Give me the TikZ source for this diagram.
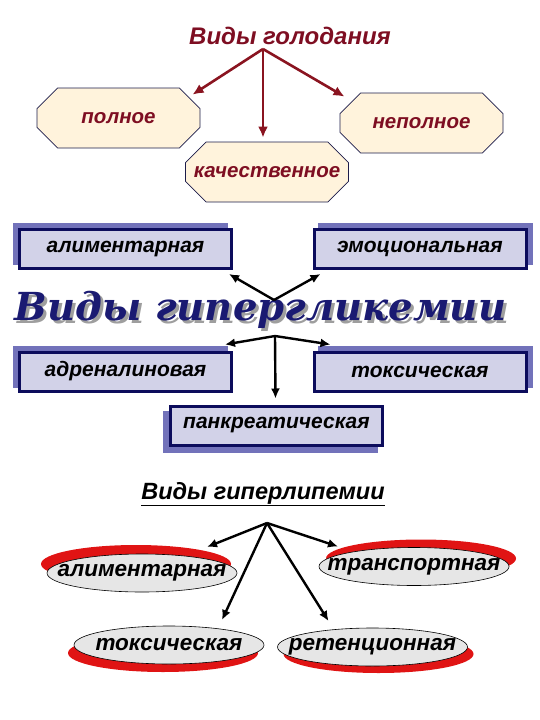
\documentclass[tikz,border=0pt]{standalone}
\usepackage{fontspec}
\setmainfont{Liberation Sans}
\newfontfamily\bigserif{DejaVu Serif}
\usetikzlibrary{arrows.meta,shapes.misc,shapes.geometric,shadows,calc}
\definecolor{hred}{HTML}{7E0E22}
\definecolor{harrowc}{HTML}{8A1420}
\definecolor{octfill}{HTML}{FFF3DC}
\definecolor{octline}{HTML}{1C1C4A}
\definecolor{gfill}{HTML}{D2D2E8}
\definecolor{gline}{HTML}{0C0C5C}
\definecolor{gshadow}{HTML}{7272BA}
\definecolor{navytxt}{HTML}{1A1A72}
\definecolor{efill}{HTML}{E6E6E6}
\definecolor{ered}{HTML}{E01414}
\begin{document}
\begin{tikzpicture}[x=1pt,y=-1pt,
  octbox/.style={chamfered rectangle, chamfered rectangle xsep=15pt,
    chamfered rectangle ysep=15pt, draw=octline, line width=0.8pt,
    fill=octfill, minimum width=163pt, minimum height=60pt, inner sep=0pt,
    font=\fontsize{20.5}{24}\selectfont\bfseries\itshape, text=hred},
  harrow/.style={-{Latex[length=11pt,width=10pt]}, line width=2.6pt, draw=harrowc},
  barrow/.style={-{Latex[length=10pt,width=9pt]}, line width=2.4pt, draw=black},
  gbox/.style={rectangle, draw=gline, line width=3pt, fill=gfill,
    minimum width=212pt, minimum height=39pt, inner sep=0pt,
    font=\fontsize{21}{24}\selectfont\bfseries\itshape},
  gsh/.style 2 args={copy shadow={shadow xshift=#1, shadow yshift=#2,
    fill=gshadow, draw=gshadow, opacity=1}},
  ebox/.style={ellipse, draw=black, line width=0.6pt, fill=efill,
    minimum width=190pt, minimum height=38pt, inner xsep=-30pt, inner ysep=0pt,
    font=\fontsize{22.5}{26}\selectfont\bfseries\itshape},
  esh/.style 2 args={copy shadow={shadow xshift=#1, shadow yshift=#2,
    fill=ered, draw=none, opacity=1}},
]
\useasboundingbox (0,0) rectangle (540,720);

% ---------- Виды голодания ----------
\node[text=hred, font=\fontsize{24}{28}\selectfont\bfseries\itshape] (t1) at (290,36) {Виды голодания};
\coordinate (hub0) at (263,49);
\node[octbox] (A) at (118.5,118) {полное};
\node[octbox] (C) at (421.5,123) {неполное};
\node[octbox] (B) at (267,172) {качественное};
\draw[harrow] (hub0) -- ($(A.north)+(74,7)$);
\draw[harrow] (hub0) -- ($(C.north)+(-77,4)$);
\draw[harrow] (hub0) -- ($(B.north)+(-4,-4)$);

% ---------- Виды гипергликемии ----------
\node[gbox, gsh={-5pt}{5pt}] (alim) at (125.5,249) {алиментарная};
\node[gbox, gsh={5pt}{5pt}] (emot) at (420,249) {эмоциональная};
\node[gbox, gsh={-5pt}{5pt}] (adr) at (125.5,371.5) {адреналиновая};
\node[gbox, gsh={5pt}{5pt}] (tox) at (420,371.5) {токсическая};
\node[gbox, gsh={-6pt}{-6pt}] (panc) at (276.5,425.5) {панкреатическая};

\node[anchor=base, text=black!38, inner sep=0pt] (t2s) at (263.5,323)
  {\resizebox{491pt}{!}{\bigserif\bfseries\itshape Виды гипергликемии}};
\node[anchor=base, text=navytxt, inner sep=0pt] (t2) at (260.5,320)
  {\resizebox{491pt}{!}{\bigserif\bfseries\itshape Виды гипергликемии}};

\coordinate (hub1) at (274,300);
\coordinate (hub2) at (275,336);
\draw[barrow] (hub1) -- ($(alim.south east)+(-4,4)$);
\draw[barrow] (hub1) -- ($(emot.south west)+(8,4)$);
\draw[barrow] (hub2) -- ($(adr.north east)+(-8,-6)$);
\draw[barrow] (hub2) -- ($(tox.north west)+(18,-6)$);
\draw[barrow] (hub2) -- ($(panc.north)+(-1,-6)$);

% ---------- Виды гиперлипемии ----------
\node[font=\fontsize{23.5}{27}\selectfont\bfseries\itshape] (t3) at (263,494) {\underline{Виды гиперлипемии}};
\coordinate (hub3) at (267,523);
\node[ebox, esh={-6pt}{9pt}] (E1) at (142,573) {алиментарная};
\node[ebox, esh={7pt}{8pt}] (E2) at (414,566.5) {транспортная};
\node[ebox, esh={-6pt}{-8pt}] (E3) at (169,645) {токсическая};
\node[ebox, esh={6pt}{-7pt}] (E4) at (372.5,647) {ретенционная};
\draw[barrow] (hub3) -- ($(E1.center)+(65,-26)$);
\draw[barrow] (hub3) -- ($(E2.center)+(-76,-20)$);
\draw[barrow] (hub3) -- ($(E3.center)+(53,-25)$);
\draw[barrow] (hub3) -- ($(E4.center)+(-44,-26)$);
\end{tikzpicture}
\end{document}
